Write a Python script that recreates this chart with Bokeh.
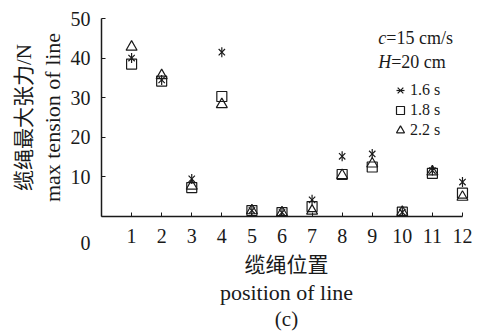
import math
from bokeh.plotting import figure
from bokeh.models import (Label, Legend, LegendItem, FixedTicker, ColumnDataSource,
                          Range1d, Title)
from bokeh.embed import file_html
from bokeh.resources import INLINE

positions = [1, 2, 3, 4, 5, 6, 7, 8, 9, 10, 11, 12]
t16 = [40.0, 34.5, 9.5, 41.5, 1.5, 1.0, 4.2, 15.2, 15.8, 1.1, 11.6, 8.7]
t18 = [38.5, 34.2, 7.3, 30.3, 1.5, 1.0, 2.5, 10.6, 12.5, 1.1, 10.9, 5.9]
t22 = [42.8, 35.6, 7.7, 28.3, 1.5, 1.0, 1.4, 10.4, 13.3, 1.1, 11.3, 4.9]
y_ticks = [0, 10, 20, 30, 40, 50]
x_ticks = positions
series_labels = ["1.6 s", "1.8 s", "2.2 s"]

SERIF = "Liberation Serif"
MIX = "Liberation Serif, Noto Sans CJK SC"
CJK = "Noto Sans CJK SC"
INK = "#1a1a1a"

src = ColumnDataSource(dict(x=positions, a=t16, b=t18, c=t22))

p = figure(width=478, height=336, output_backend="svg", toolbar_location=None,
           x_range=Range1d(0, 12.3), y_range=Range1d(0, 50),
           min_border_left=101, min_border_right=7, min_border_top=18, min_border_bottom=120)
p.outline_line_color = None
p.xgrid.visible = False
p.ygrid.visible = False

for ax in (p.xaxis[0], p.yaxis[0]):
    ax.axis_line_color = INK
    ax.axis_line_width = 1.5
    ax.major_tick_line_color = INK
    ax.major_tick_line_width = 1
    ax.major_tick_in = 4
    ax.major_tick_out = 0
    ax.minor_tick_line_color = None
    ax.major_label_text_font = SERIF
    ax.major_label_text_font_size = "20px"
    ax.major_label_text_color = INK

p.xaxis[0].ticker = FixedTicker(ticks=x_ticks)
p.xaxis[0].bounds = (0, 12)
p.yaxis[0].ticker = FixedTicker(ticks=y_ticks)
p.yaxis[0].major_label_overrides = {0: "\n\n0"}
p.xaxis[0].major_label_standoff = 12
p.yaxis[0].major_label_standoff = 11

r_x = p.scatter("x", "a", source=src, marker="x", size=9, line_color=INK, line_width=1.2)
r_d = p.scatter("x", "a", source=src, marker="dash", angle=math.pi / 2, size=10,
                line_color=INK, line_width=1.2)
r_s = p.scatter("x", "b", source=src, marker="square", size=10, line_color=INK,
                fill_alpha=0, line_width=1.2)
r_t = p.scatter("x", "c", source=src, marker="triangle", size=11, line_color=INK,
                fill_alpha=0, line_width=1.2)

legend = Legend(items=[LegendItem(label=series_labels[0], renderers=[r_x, r_d]),
                       LegendItem(label=series_labels[1], renderers=[r_s]),
                       LegendItem(label=series_labels[2], renderers=[r_t])],
                location=(289, 76), background_fill_alpha=0, border_line_color=None,
                padding=0, margin=0, spacing=0, glyph_width=20, glyph_height=20,
                label_standoff=0, label_text_font=SERIF, label_text_font_size="16px",
                label_text_color=INK, label_height=20, label_width=10)
p.add_layout(legend)

def title(text, side, font=SERIF, size="22px", standoff=0):
    t = Title(text=text, align="center", text_font=font, text_font_size=size,
              text_font_style="normal", text_color=INK, standoff=standoff)
    p.add_layout(t, side)

title("缆绳位置", "below", font=CJK, size="21px")
title("position of line", "below")
title("(c)", "below", size="21px", standoff=0)
title("max tension of line", "left", standoff=5)
title("缆绳最大张力/N", "left", font=MIX, size="21px")

def lab(x, y, text, style="normal"):
    p.add_layout(Label(x=x, y=y, text=text, text_font=SERIF, text_font_size="18px",
                       text_align="left", text_baseline="middle",
                       text_color=INK, text_font_style=style))

lab(9.2, 45.0, "c", style="italic")
lab(9.47, 45.0, "=15 cm/s")
lab(9.2, 38.9, "H", style="italic")
lab(9.63, 38.9, "=20 cm")

open("out.html", "w").write(file_html(p, INLINE))
